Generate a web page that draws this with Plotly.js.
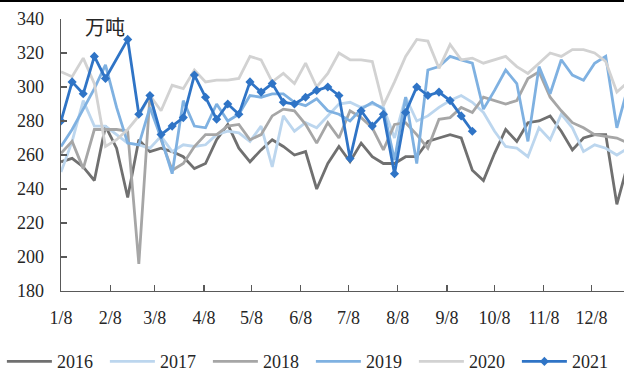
<!DOCTYPE html>
<html>
<head>
<meta charset="utf-8">
<script src="https://cdn.plot.ly/plotly-3.0.1.min.js"></script>
<style>
  html, body { margin: 0; padding: 0; background: #fff; }
  #chart { width: 624px; height: 370px; border-top: 2px solid #000; }
</style>
</head>
<body>
<div id="chart"></div>
<script>
// Weekly output by year, in 万吨; week 0 falls on 1/8.
const years = ['2016', '2017', '2018', '2019', '2020', '2021'];

const y2016 = [256, 258, 253, 245, 277, 264, 235, 269, 262, 264, 262, 259, 252, 255, 269, 278, 264, 256,
  263, 269, 265, 260, 262, 240, 255, 265, 256, 267, 259, 255, 255, 259, 259, 268, 270, 272,
  270, 251, 245, 261, 275, 268, 279, 280, 283, 274, 263, 270, 272, 272, 231, 255];
const y2017 = [250, 268, 292, 277, 277, 272, 267, 266, 264, 271, 262, 266, 265, 266, 272, 274, 273, 268,
  277, 253, 283, 274, 279, 276, 283, 290, 291, 288, 290, 288, 270, 294, 280, 283, 288, 292,
  295, 291, 285, 274, 265, 264, 259, 276, 269, 284, 276, 262, 266, 264, 260, 264];
const y2018 = [261, 268, 252, 275, 275, 275, 274, 196, 295, 269, 251, 255, 265, 272, 272, 277, 278, 269,
  272, 283, 287, 286, 278, 267, 279, 270, 286, 282, 276, 263, 278, 279, 272, 264, 281, 282,
  288, 285, 294, 292, 290, 292, 305, 309, 294, 286, 279, 276, 272, 271, 270, 267];
const y2019 = [265, 275, 287, 299, 313, 288, 267, 266, 288, 270, 249, 292, 277, 276, 290, 280, 284, 295,
  294, 296, 296, 291, 289, 293, 286, 284, 280, 287, 291, 287, 257, 294, 255, 310, 312, 318,
  316, 314, 287, 298, 310, 302, 268, 312, 296, 316, 307, 304, 314, 318, 276, 300];
const y2020 = [309, 306, 317, 302, 265, 269, 275, 283, 295, 286, 301, 299, 310, 303, 304, 304, 305, 318,
  316, 303, 308, 302, 314, 300, 308, 320, 316, 316, 315, 289, 303, 318, 328, 327, 311, 325,
  316, 317, 314, 316, 318, 312, 308, 314, 320, 318, 322, 322, 320, 315, 297, 303];
// No reading for the week of 2/12 in 2021.
const y2021 = [280, 303, 296, 318, 305, null, 328, 284, 295, 272, 277, 282, 307, 294, 281, 290, 284, 303,
  297, 302, 291, 290, 294, 298, 300, 295, 258, 286, 277, 284, 249, 285, 300, 295, 297, 292,
  283, 274];

const series = [y2016, y2017, y2018, y2019, y2020, y2021];
const colors = ['#707070', '#bcd6ee', '#a6a6a6', '#7fb1e1', '#d2d2d2', '#2f74c6'];

const tickDates = ['2021-01-08', '2021-02-08', '2021-03-08', '2021-04-08', '2021-05-08', '2021-06-08',
  '2021-07-08', '2021-08-08', '2021-09-08', '2021-10-08', '2021-11-08', '2021-12-08'];
const tickLabels = ['1/8', '2/8', '3/8', '4/8', '5/8', '6/8', '7/8', '8/8', '9/8', '10/8', '11/8', '12/8'];

// Week dates on a common calendar year so all years overlay.
function weekDates(n) {
  const out = [];
  const start = Date.UTC(2021, 0, 8);
  for (let i = 0; i < n; i++) {
    const d = new Date(start + i * 7 * 86400000);
    out.push(d.toISOString().slice(0, 10));
  }
  return out;
}

const serif = 'Liberation Serif, Times New Roman, serif';

const traces = series.map((vals, k) => {
  const isLast = k === series.length - 1;
  const t = {
    type: 'scatter',
    mode: isLast ? 'lines+markers' : 'lines',
    name: years[k],
    x: weekDates(vals.length),
    y: vals,
    connectgaps: true,
    line: { color: colors[k], width: 2.8 },
    hoverinfo: 'skip'
  };
  if (isLast) t.marker = { symbol: 'diamond', size: 7, color: colors[k] };
  return t;
});

const axisColor = '#595959';
const layout = {
  width: 624,
  height: 370,
  margin: { l: 61, r: 0, t: 16.5, b: 81, pad: 0, autoexpand: false },
  paper_bgcolor: '#ffffff',
  plot_bgcolor: '#ffffff',
  showlegend: true,
  font: { family: serif, size: 18, color: '#262626' },
  xaxis: {
    type: 'date',
    range: ['2021-01-08', '2021-12-28 12:00'],
    tickmode: 'array',
    tickvals: tickDates,
    ticktext: tickLabels,
    ticks: 'inside',
    ticklen: 6,
    tickwidth: 1.3,
    tickcolor: axisColor,
    showline: true,
    linecolor: axisColor,
    linewidth: 1.3,
    showgrid: false,
    zeroline: false,
    ticklabelstandoff: 10,
    tickfont: { family: serif, size: 18, color: '#262626' }
  },
  yaxis: {
    range: [180, 340],
    dtick: 20,
    ticks: 'inside',
    ticklen: 6,
    tickwidth: 1.3,
    tickcolor: axisColor,
    showline: true,
    linecolor: axisColor,
    linewidth: 1.3,
    showgrid: false,
    zeroline: false,
    ticklabelstandoff: 12,
    tickfont: { family: serif, size: 18, color: '#262626' }
  },
  legend: {
    orientation: 'h',
    x: -0.105,
    xanchor: 'left',
    y: -0.26,
    yanchor: 'middle',
    entrywidth: 43,
    entrywidthmode: 'pixels',
    itemwidth: 45,
    font: { family: serif, size: 18, color: '#262626' },
    bgcolor: 'rgba(0,0,0,0)'
  },
  annotations: [{
    xref: 'paper', yref: 'paper',
    x: (105 - 61) / 563, y: 1 - (26 - 18.5) / 272.5,
    xanchor: 'center', yanchor: 'middle',
    text: '万吨',
    showarrow: false,
    font: { family: 'Noto Sans CJK SC, sans-serif', size: 20, color: '#262626' }
  }]
};

Plotly.newPlot('chart', traces, layout, { staticPlot: true, displayModeBar: false });
</script>
</body>
</html>
